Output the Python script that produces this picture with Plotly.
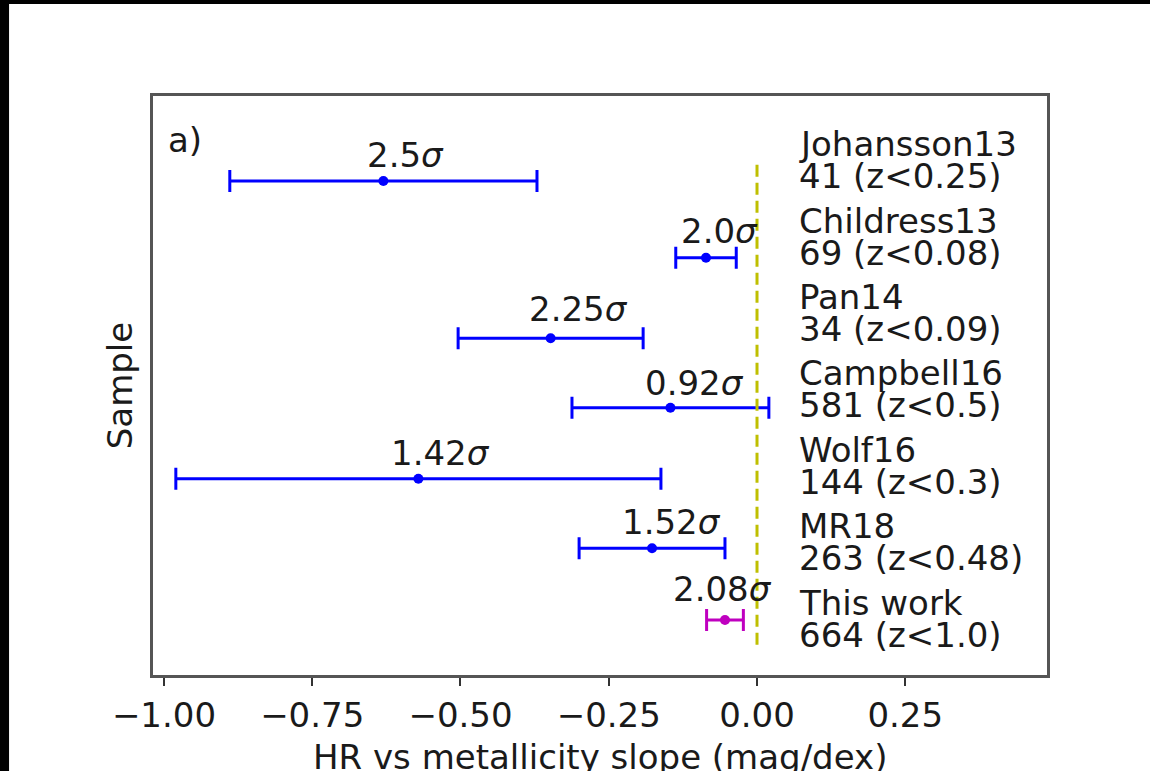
import plotly.graph_objects as go

# ---- data ----
samples = ["Johansson13", "Childress13", "Pan14", "Campbell16", "Wolf16", "MR18", "This work"]
details = ["41 (z<0.25)", "69 (z<0.08)", "34 (z<0.09)", "581 (z<0.5)", "144 (z<0.3)", "263 (z<0.48)", "664 (z<1.0)"]
slopes = [-0.630, -0.086, -0.348, -0.146, -0.571, -0.177, -0.054]
errors = [0.259, 0.051, 0.156, 0.166, 0.409, 0.123, 0.031]
sigmas = ["2.5", "2.0", "2.25", "0.92", "1.42", "1.52", "2.08"]
rows = [6.0, 4.95, 3.85, 2.9, 1.93, 0.98, 0.0]
tick_vals = [-1.00, -0.75, -0.50, -0.25, 0.00, 0.25]
tick_text = ["\u22121.00", "\u22120.75", "\u22120.50", "\u22120.25", "0.00", "0.25"]

# ---- styling ----
FONT = "DejaVu Sans"
FS = 34
colors = ["#0000ff"] * 6 + ["#bf00bf"]
label_dx = [22, 13, 28, 24, 22, 19, -2]       # pixel offsets of sigma labels
label_dy = [26, 27, 29, 25, 26, 26, 31]

fig = go.Figure()
for i, name in enumerate(samples):
    fig.add_trace(go.Scatter(
        x=[slopes[i]], y=[rows[i]], mode="markers",
        marker=dict(color=colors[i], size=10),
        error_x=dict(type="data", array=[errors[i]], color=colors[i],
                     thickness=3, width=11),
        showlegend=False, name=name))

annotations = []
# sigma labels
for i in range(len(samples)):
    annotations.append(dict(
        x=slopes[i], y=rows[i], xref="x", yref="y",
        text=f"{sigmas[i]}<i>σ</i>", showarrow=False,
        xshift=label_dx[i], yshift=label_dy[i],
        xanchor="center", yanchor="middle",
        font=dict(family=FONT, size=FS, color="#1a1a1a")))

# right-hand sample labels (evenly spaced blocks)
top_c, bot_c = 6.287, 0.014
n = len(samples)
for i in range(n):
    yc = top_c - (top_c - bot_c) * i / (n - 1)
    for txt, sh in ((samples[i], 16), (details[i], -16)):
        annotations.append(dict(
            x=0.067, y=yc, xref="x", yref="y", text=txt, showarrow=False,
            xanchor="left", yanchor="middle", yshift=sh,
            font=dict(family=FONT, size=FS, color="#1a1a1a")))

annotations.append(dict(
    x=0.014, y=0.924, xref="paper", yref="paper", text="a)", showarrow=False,
    xanchor="left", yanchor="middle",
    font=dict(family=FONT, size=FS, color="#1a1a1a")))

# x-axis title (placed like the reference, partly cut by the page edge)
annotations.append(dict(
    x=0.5, y=-0.142, xref="paper", yref="paper",
    text="HR vs metallicity slope (mag/dex)", showarrow=False,
    xanchor="center", yanchor="middle",
    font=dict(family=FONT, size=FS, color="#1a1a1a")))

shapes = [
    dict(type="rect", xref="paper", yref="paper", x0=-0.161, x1=1.3,
         y0=-0.4, y1=1.159, fillcolor="white", line=dict(width=0), layer="below"),
    dict(type="line", xref="x", yref="y", x0=0, x1=0, y0=-0.34, y1=6.25,
         line=dict(color="#bfbf00", width=3, dash="12px,6px")),
]

fig.update_layout(
    width=1150, height=771,
    paper_bgcolor="black", plot_bgcolor="white",
    margin=dict(l=153, r=103, t=96, b=96),
    annotations=annotations, shapes=shapes,
    font=dict(family=FONT, size=FS, color="#1a1a1a"),
    xaxis=dict(range=[-1.0185, 0.489], tickvals=tick_vals, ticktext=tick_text,
               ticks="outside", ticklen=8, tickwidth=2, tickcolor="#333",
               showline=True, mirror=True, linecolor="#555", linewidth=2.5,
               showgrid=False, zeroline=False, automargin=False,
               tickfont=dict(family=FONT, size=FS, color="#1a1a1a")),
    yaxis=dict(range=[-0.752, 7.162], showticklabels=False, ticks="",
               showline=True, mirror=True, linecolor="#555", linewidth=2.5,
               showgrid=False, zeroline=False, automargin=False,
               title=dict(text="Sample", standoff=8,
                          font=dict(family=FONT, size=FS, color="#1a1a1a"))),
)

fig.write_html("out.html")
